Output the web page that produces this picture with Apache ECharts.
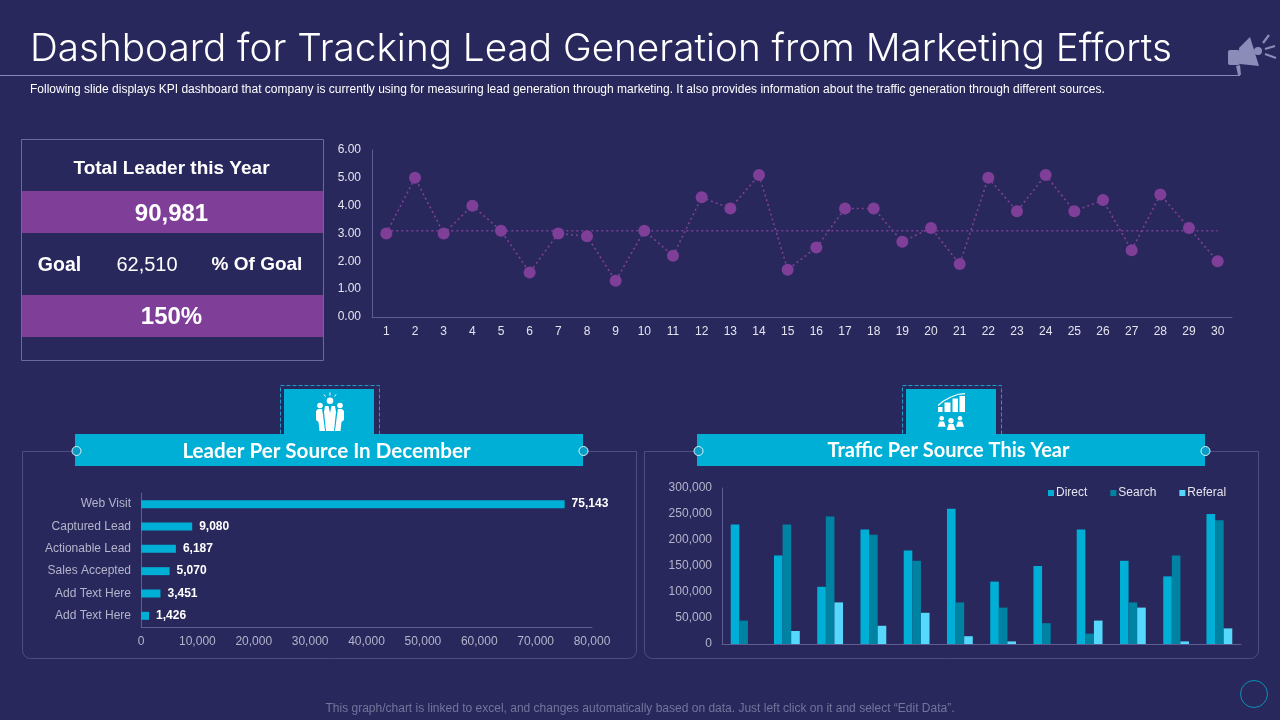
<!DOCTYPE html>
<html>
<head>
<meta charset="utf-8">
<title>Dashboard for Tracking Lead Generation from Marketing Efforts</title>
<script src="https://cdn.jsdelivr.net/npm/echarts@6/dist/echarts.min.js"></script>
<style>
html, body { margin: 0; padding: 0; background: #29285c; }
#main { width: 1280px; height: 720px; }
</style>
</head>
<body>
<div id="main"></div>
<script>
'use strict';

// daily leads
const days = ['1','2','3','4','5','6','7','8','9','10','11','12','13','14','15','16','17','18','19','20','21','22','23','24','25','26','27','28','29','30'];
const dayValues = [3.0,5.0,3.0,4.0,3.1,1.6,3.0,2.9,1.3,3.1,2.2,4.3,3.9,5.1,1.7,2.5,3.9,3.9,2.7,3.2,1.9,5.0,3.8,5.1,3.8,4.2,2.4,4.4,3.2,2.0];
const dayAverage = [3.1,3.1,3.1,3.1,3.1,3.1,3.1,3.1,3.1,3.1,3.1,3.1,3.1,3.1,3.1,3.1,3.1,3.1,3.1,3.1,3.1,3.1,3.1,3.1,3.1,3.1,3.1,3.1,3.1,3.1];

// leader per source
const sources = ['Web Visit','Captured Lead','Actionable Lead','Sales Accepted','Add Text Here','Add Text Here'];
const sourceValues = [75143,9080,6187,5070,3451,1426];

// traffic per source
const months = ['1','2','3','4','5','6','7','8','9','10','11','12'];
const direct = [230000,170000,110000,220000,180000,260000,120000,150000,220000,160000,130000,250000];
const search = [45000,230000,245000,210000,160000,80000,70000,40000,20000,80000,170000,238000];
const referal = [0,25000,80000,35000,60000,15000,5000,0,45000,70000,5000,30000];

const BG = '#29285c';
const CYAN = '#00afd6';
const PURPLE = '#7f3f98';
const EDGE = '#4d4d86';
const FONT = '"Liberation Sans", Arial, sans-serif';
const HEAD = 'Lato, sans-serif';

function text(x, y, str, size, color, weight, align, family) {
    return {
        type: 'text',
        style: {
            x: x, y: y, text: str, fontSize: size, fill: color,
            fontWeight: weight || 'normal', fontFamily: family || FONT,
            align: align || 'center', verticalAlign: 'middle'
        }
    };
}

function rect(x, y, w, h, fill) {
    return { type: 'rect', shape: { x: x, y: y, width: w, height: h }, style: { fill: fill } };
}

function poly(points, fill) {
    return { type: 'polygon', shape: { points: points }, style: { fill: fill } };
}

function dot(x, y, r, fill) {
    return { type: 'circle', shape: { cx: x, cy: y, r: r }, style: { fill: fill } };
}

function seg(x1, y1, x2, y2, color, width) {
    return { type: 'line', shape: { x1: x1, y1: y1, x2: x2, y2: y2 }, style: { stroke: color, lineWidth: width } };
}

// panel frame, title band and the tab above it; x is the frame's left edge
function panel(x, title, size) {
    return [
        { type: 'rect', shape: { x: x + 0.5, y: 451.5, width: 614, height: 207, r: [0, 0, 8, 8] },
          style: { fill: 'none', stroke: EDGE, lineWidth: 1 } },
        { type: 'rect', shape: { x: x + 258.5, y: 385.5, width: 99, height: 60 },
          style: { fill: 'none', stroke: '#1f9cc8', lineWidth: 1, lineDash: [4, 2] } },
        rect(x + 262, 389, 90, 46, CYAN),
        rect(x + 53, 434, 508, 32, CYAN),
        { type: 'circle', shape: { cx: x + 54.5, cy: 451, r: 4.5 }, style: { fill: '#0a9cc4', stroke: '#d8f6fb', lineWidth: 1 } },
        { type: 'circle', shape: { cx: x + 561.5, cy: 451, r: 4.5 }, style: { fill: '#0a9cc4', stroke: '#d8f6fb', lineWidth: 1 } },
        text(x + 304.5, 451, title, size, '#fff', 'bold', 'center', HEAD)
    ];
}

function mirror(points) {
    return points.map(function (p) { return [660 - p[0], p[1]]; });
}

function peopleIcon() {
    const c = '#fff';
    const side = [[316,411],[318,409],[322,409],[323,415],[325,431],[319.5,431],[318.5,422],[316,420]];
    return [
        dot(330, 400.7, 3.3, c),
        seg(330, 392.5, 330, 395.5, c, 1), seg(324, 394.5, 325.5, 396.5, c, 1), seg(336, 394.5, 334.5, 396.5, c, 1),
        dot(320, 405.5, 2.8, c), dot(340, 405.5, 2.8, c),
        poly(side, c),
        poly(mirror(side), c),
        poly([[325,406],[328.5,406],[330,413],[331.5,406],[335,406],[336,412],[334,431],[326,431],[324,412]], c)
    ];
}

function trafficIcon() {
    const c = '#fff';
    return [
        rect(938, 407, 4.5, 5, c), rect(944.5, 402.5, 6, 9.5, c), rect(952.5, 398.5, 5.5, 13.5, c), rect(959.5, 396, 5.5, 16, c),
        seg(938, 405.5, 943.5, 401, c, 1.2), seg(943.5, 401, 951.5, 396.7, c, 1.2), seg(951.5, 396.7, 958.5, 394.3, c, 1.2), seg(958.5, 394.3, 965, 393.7, c, 1.2),
        dot(941.7, 418.3, 2.3, c), poly([[937.7,426.7],[939.5,421.5],[944,421.5],[945.7,426.7]], c),
        dot(960, 418.3, 2.3, c), poly([[956,426.7],[957.8,421.5],[962.2,421.5],[964,426.7]], c),
        dot(951, 420.7, 2.7, c), poly([[946.7,430],[948.7,424],[953.5,424],[955.7,430]], c)
    ];
}

function megaphone() {
    const c = '#8c8cb8';
    return [
        poly([[1239,48],[1250,37],[1259,66],[1240,64]], c),
        { type: 'rect', shape: { x: 1228, y: 50, width: 12, height: 15, r: 2 }, style: { fill: c } },
        poly([[1236,66],[1240,65],[1241,75],[1238,75]], c),
        dot(1258, 51, 4, c),
        seg(1263, 43, 1269, 35, c, 2.2), seg(1265, 49, 1275, 46, c, 2.2), seg(1265, 54, 1276, 58, c, 2.2)
    ];
}

const graphics = [].concat(
    [
        text(30, 49.5, 'Dashboard for Tracking Lead Generation from Marketing Efforts', 38.7, '#fff', 300, 'left', 'Inter, sans-serif'),
        seg(0, 75.5, 1240, 75.5, '#8a8ab8', 1),
        text(30, 90, 'Following slide displays KPI dashboard that company is currently using for measuring lead generation through marketing. It also provides information about the traffic generation through different sources.', 12, '#fff', 'normal', 'left'),

        rect(22, 191, 301, 42, PURPLE),
        rect(22, 295, 301, 42, PURPLE),
        { type: 'rect', shape: { x: 21.5, y: 139.5, width: 302, height: 221 }, style: { fill: 'none', stroke: '#6a6aa2', lineWidth: 1 } },
        text(171.5, 169, 'Total Leader this Year', 19, '#fff', 'bold'),
        text(171.5, 214, '90,981', 24, '#fff', 'bold'),
        text(59.5, 265.5, 'Goal', 19.5, '#fff', 'bold'),
        text(147, 265, '62,510', 20, '#fff'),
        text(257, 265, '% Of Goal', 19, '#fff', 'bold'),
        text(171.5, 317, '150%', 24, '#fff', 'bold'),

        text(640, 709, 'This graph/chart is linked to excel, and changes automatically based on data. Just left click on it and select \u201cEdit Data\u201d.', 12, '#74749c'),
        { type: 'circle', shape: { cx: 1254, cy: 694, r: 13.5 }, style: { fill: 'none', stroke: '#0b8fb8', lineWidth: 1 } }
    ],
    megaphone(),
    panel(22, 'Leader Per Source In December', 20.6),
    panel(644, 'Traffic Per Source This Year', 20),
    peopleIcon(),
    trafficIcon()
);

const axisLine = { show: true, lineStyle: { color: '#5d5d94', width: 1 } };
const thousands = function (v) { return v.toLocaleString('en-US'); };

const option = {
    backgroundColor: BG,
    animation: false,
    textStyle: { fontFamily: FONT },
    graphic: graphics,
    grid: [
        { left: 372, top: 150, width: 860, height: 167 },
        { left: 141, top: 493, width: 451, height: 134 },
        { left: 722, top: 488, width: 519, height: 156 }
    ],
    xAxis: [
        { gridIndex: 0, type: 'category', data: days, axisLine: axisLine, axisTick: { show: false },
          axisLabel: { color: '#e4e4ee', fontSize: 12, margin: 9, interval: 0 } },
        { gridIndex: 1, type: 'value', min: 0, max: 80000, interval: 10000, axisLine: axisLine, axisTick: { show: false },
          splitLine: { show: false }, axisLabel: { color: '#b4b4cc', fontSize: 12, margin: 9, formatter: thousands } },
        { gridIndex: 2, type: 'category', data: months, axisLine: axisLine, axisTick: { show: false }, axisLabel: { show: false } }
    ],
    yAxis: [
        { gridIndex: 0, type: 'value', min: 0, max: 6, interval: 1, axisLine: axisLine, axisTick: { show: false },
          splitLine: { show: false }, axisLabel: { color: '#e4e4ee', fontSize: 12, margin: 11, padding: [4, 0, 0, 0], formatter: function (v) { return v.toFixed(2); } } },
        { gridIndex: 1, type: 'category', inverse: true, data: sources, axisLine: axisLine, axisTick: { show: false },
          axisLabel: { color: '#b4b4cc', fontSize: 12, margin: 10, interval: 0, padding: [2, 0, 0, 0] } },
        { gridIndex: 2, type: 'value', min: 0, max: 300000, interval: 50000, axisLine: axisLine, axisTick: { show: false },
          splitLine: { show: false }, axisLabel: { color: '#b4b4cc', fontSize: 12, margin: 10, padding: [2, 0, 0, 0], formatter: thousands } }
    ],
    legend: {
        data: ['Direct', 'Search', 'Referal'],
        left: 1043, top: 482, itemWidth: 6, itemHeight: 6, itemGap: 23, icon: 'rect',
        textStyle: { color: '#e4e4ee', fontSize: 12, padding: [0, 0, 0, -3] }
    },
    series: [
        { name: 'Leads', type: 'line', xAxisIndex: 0, yAxisIndex: 0, data: dayValues, symbol: 'circle', symbolSize: 12,
          itemStyle: { color: PURPLE }, lineStyle: { color: PURPLE, width: 1.6, type: [2, 3] } },
        { name: 'Average', type: 'line', xAxisIndex: 0, yAxisIndex: 0, data: dayAverage, symbol: 'none',
          lineStyle: { color: PURPLE, width: 1.6, type: [2, 3] } },
        { name: 'Sources', type: 'bar', xAxisIndex: 1, yAxisIndex: 1, data: sourceValues, barWidth: 8,
          itemStyle: { color: CYAN },
          label: { show: true, position: 'right', distance: 7, color: '#fff', fontWeight: 'bold', fontSize: 12, formatter: function (p) { return thousands(p.value); } } },
        { name: 'Direct', type: 'bar', xAxisIndex: 2, yAxisIndex: 2, data: direct, barWidth: 8.6, barGap: 0, itemStyle: { color: CYAN } },
        { name: 'Search', type: 'bar', xAxisIndex: 2, yAxisIndex: 2, data: search, barWidth: 8.6, barGap: 0, itemStyle: { color: '#0083a3' } },
        { name: 'Referal', type: 'bar', xAxisIndex: 2, yAxisIndex: 2, data: referal, barWidth: 8.6, barGap: 0, itemStyle: { color: '#55d8fb' } }
    ]
};

const myChart = echarts.init(document.getElementById('main'), null, { renderer: 'canvas' });
myChart.setOption(option);
</script>
</body>
</html>
